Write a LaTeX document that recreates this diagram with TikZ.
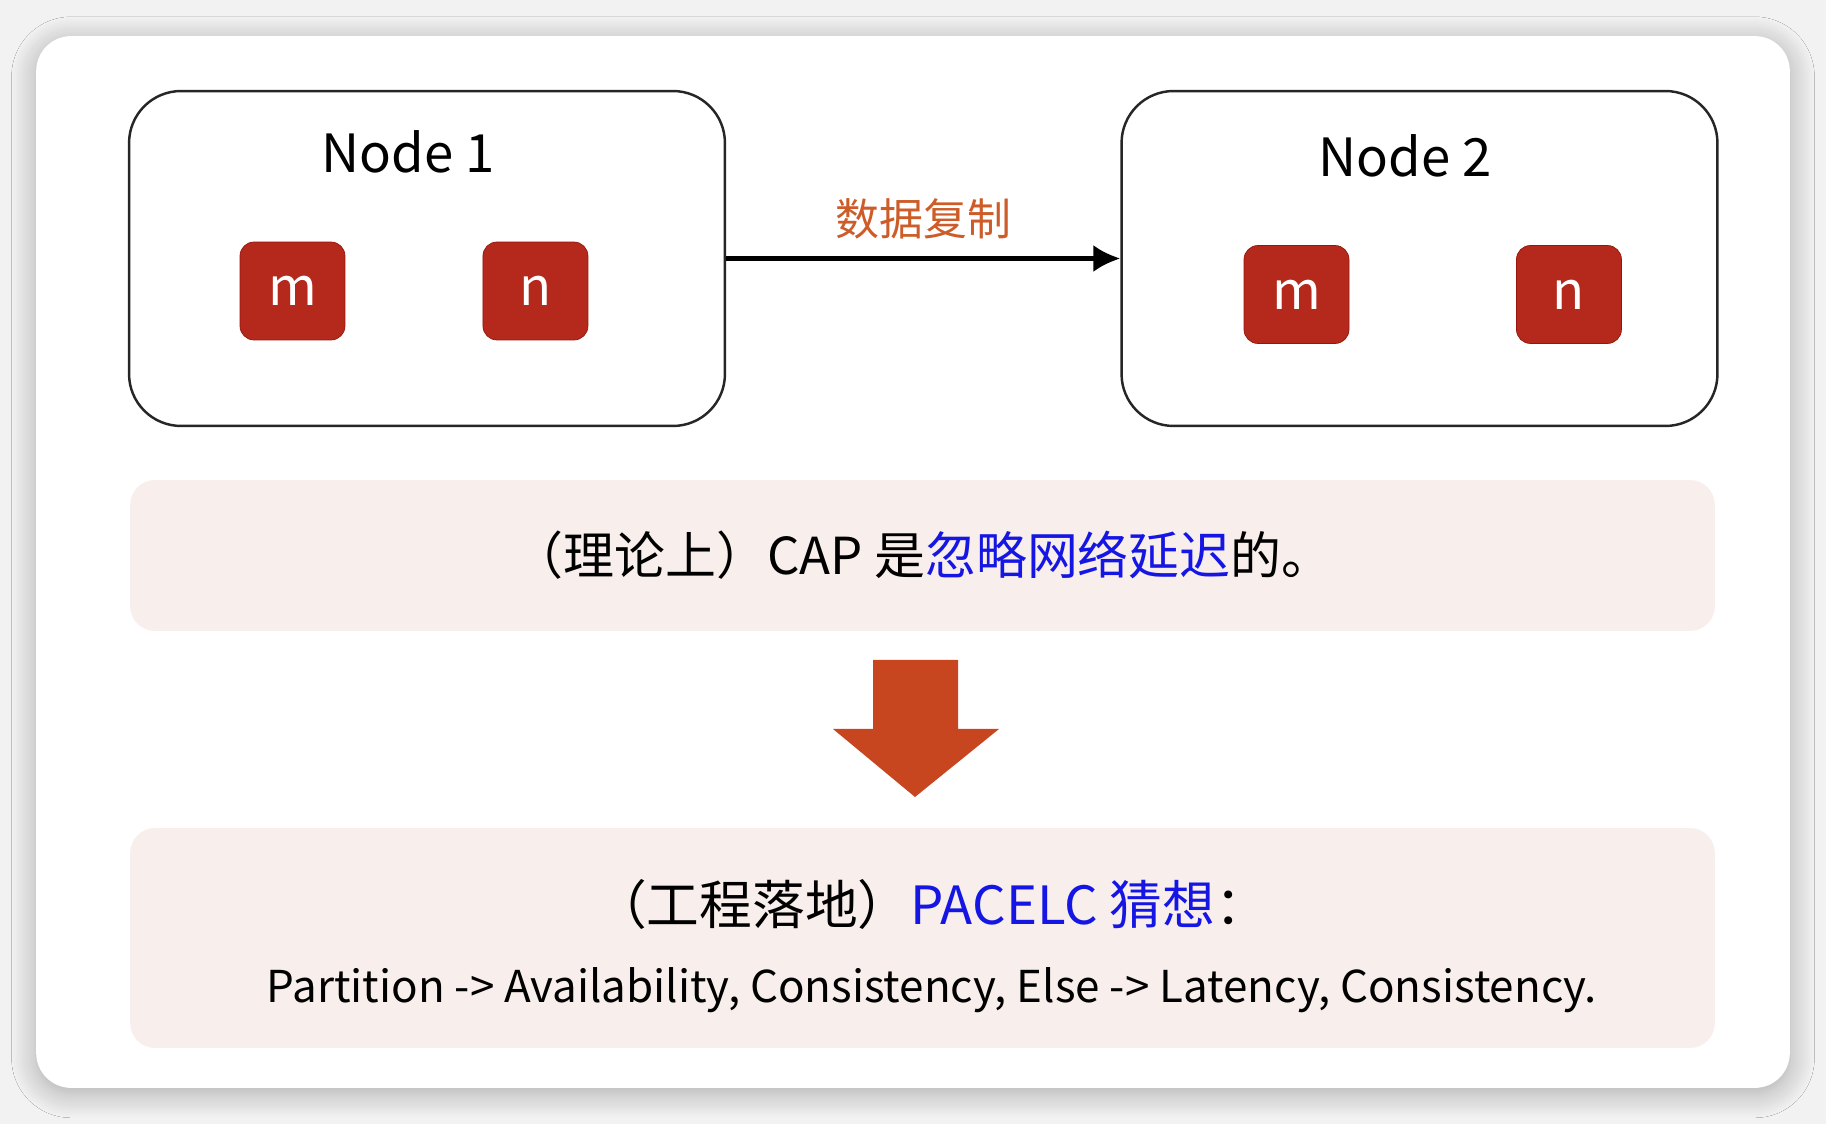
\documentclass[tikz,border=0pt]{standalone}
\usepackage{fontspec}
\setmainfont{Noto Sans CJK SC}
\usepackage{tikz}
\usetikzlibrary{positioning}
\usetikzlibrary{arrows.meta}
\usetikzlibrary{shadows.blur}
\definecolor{keyred}{RGB}{181,40,28}
\definecolor{keyedge}{RGB}{150,22,14}
\definecolor{copyorange}{RGB}{206,92,40}
\definecolor{downred}{RGB}{200,70,31}
\definecolor{notepink}{RGB}{248,238,235}
\definecolor{capblue}{RGB}{22,22,228}

\begin{document}
\begin{tikzpicture}[x=0.02cm, y=-0.02cm]
      \tikzset{
         card/.style = {
            rectangle, fill=white,
            rounded corners=0.7cm,
            minimum width=35.08cm, minimum height=21.04cm
         },
         hostbox/.style = {
            rectangle, draw=black!85, line width=1.4pt, fill=white,
            rounded corners=1.04cm,
            minimum width=11.92cm, minimum height=6.7cm
         },
         keybox/.style = {
            rectangle, draw=keyedge, fill=keyred, text=white,
            rounded corners=0.28cm,
            minimum width=2.1cm, minimum height=1.96cm,
            font=\fontsize{30}{36}\selectfont
         },
         notebox/.style = {
            rectangle, fill=notepink,
            rounded corners=0.5cm,
            minimum width=31.7cm
         }
      }
      \useasboundingbox[fill=black!5] (0,0) rectangle (1826,1124) ;
      \node[card, blur shadow={shadow xshift=0pt, shadow yshift=-3pt, shadow blur radius=14pt, shadow blur steps=12, shadow opacity=30}] (panel) at (913,562) {} ;
      % the two hosts
      \node[hostbox] (host1) at (427,258.5) {} ;
      \node[hostbox] (host2) at (1419.5,258.5) {} ;
      \node[font=\fontsize{30}{36}\selectfont] (host1Title) at (408,152) {Node 1} ;
      \node[font=\fontsize{30}{36}\selectfont] (host2Title) at (1405,156) {Node 2} ;
      \node[keybox] (host1M) at (292.5,291) {m} ;
      \node[keybox, right=4.86cm of host1M.center, anchor=center] (host1N) {n} ;
      \node[keybox] (host2M) at (1296.5,294.5) {m} ;
      \node[keybox, right=5.45cm of host2M.center, anchor=center] (host2N) {n} ;
      \draw [-{Latex[length=0.54cm, width=0.54cm]}, line width=2.4pt] (host1) -- node[above=0.22cm, text=copyorange, font=\fontsize{25}{30}\selectfont] (copyLabel) {数据复制} (host2) ;
      % the two notes
      \node[notebox, minimum height=3.02cm, font=\fontsize{29}{35}\selectfont] (capNote) at (922.5,555.5) {%
        （理论上）CAP 是\textcolor{capblue}{忽略网络延迟}的。} ;
      \node[notebox, minimum height=4.4cm] (pacelcNote) at (922.5,938) {} ;
      \node[font=\fontsize{30}{36}\selectfont] (pacelcTitle) at (931,904) {%
        （工程落地）\textcolor{capblue}{PACELC 猜想}：} ;
      \node[font=\fontsize{25}{30}\selectfont] (pacelcText) at (932,990) {%
        Partition -> Availability, Consistency, Else -> Latency, Consistency.} ;
      \fill[downred] (873,660) -- (958,660) -- (958,729) -- (999,729) -- (915,797)
        -- (833,729) -- (873,729) -- cycle ;
    \end{tikzpicture}
\end{document}
